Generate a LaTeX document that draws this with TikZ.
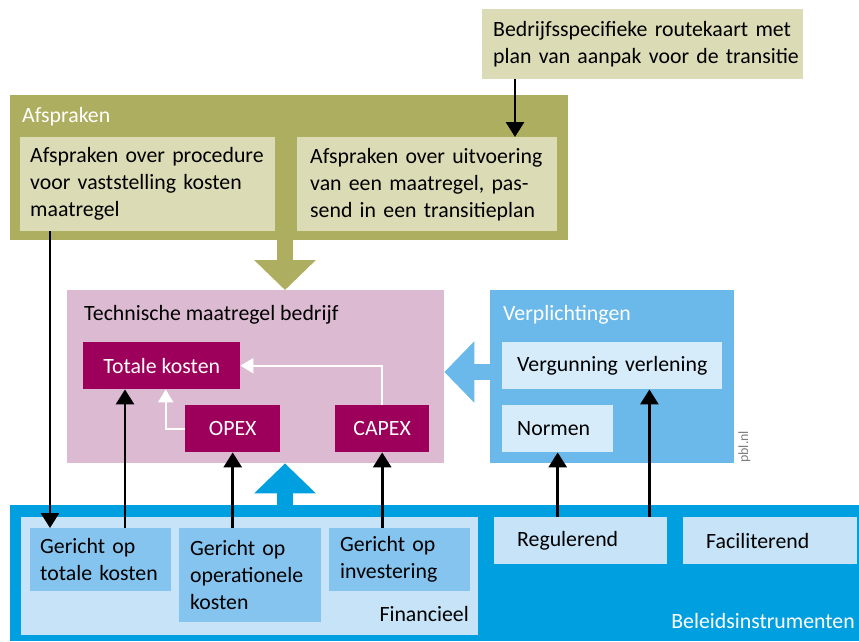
\documentclass[tikz,border=0pt]{standalone}
\usepackage{fontspec}
\setmainfont{Carlito}
\usetikzlibrary{arrows.meta}

\definecolor{olivedark}{HTML}{ADAE5F}
\definecolor{olivelight}{HTML}{DBDBB5}
\definecolor{pinkbg}{HTML}{DCBAD2}
\definecolor{magentabox}{HTML}{9C005A}
\definecolor{bluemid}{HTML}{6BB9EA}
\definecolor{bluelight}{HTML}{D7ECFA}
\definecolor{bluedark}{HTML}{009FDF}
\definecolor{bluepale}{HTML}{C6E3F8}
\definecolor{bluebox}{HTML}{85C4EF}
\newcommand\txtsize{\fontsize{21.8}{27}\selectfont}

\begin{document}
\begin{tikzpicture}[x=1pt, y=-1pt,
                    area/.style={anchor=north west, inner sep=0pt},
                    box/.style={anchor=north west, inner ysep=0pt, align=left, font=\txtsize,
                                execute at begin node={\hyphenpenalty=10000}},
                    cbox/.style={anchor=north west, inner sep=0pt, fill=magentabox, text=white,
                                 minimum height=47pt, font=\txtsize},
                    title/.style={anchor=base west, inner sep=0pt, font=\txtsize},
                    conn/.style={line width=2.8pt, -{Triangle[length=15pt,width=18pt]}},
                    wconn/.style={white, line width=2.4pt, -{Triangle[length=13pt,width=15pt]}},
                    fat/.style={line width=16pt, -{Triangle[length=30pt,width=60pt]}}]
  \useasboundingbox (0,0) rectangle (859,641);

  \node[area, fill=olivedark, minimum width=558pt, minimum height=145pt] (afspraken) at (10,95) {};
  \node[area, fill=pinkbg, minimum width=377pt, minimum height=173pt] (tech) at (67,290) {};
  \node[area, fill=bluemid, minimum width=244pt, minimum height=173pt] (verpl) at (490,290) {};
  \node[area, fill=bluedark, minimum width=849pt, minimum height=136pt] (beleid) at (10,505) {};
  \node[area, fill=bluepale, minimum width=457pt, minimum height=118pt] (financ) at (21,517) {};

  \node[title, white] (afsprakentitle) at (22,122) {Afspraken};
  \node[title] (techtitle) at (84,320) {Technische maatregel bedrijf};
  \node[title, white] (verpltitle) at (503,320) {Verplichtingen};
  \node[title, anchor=base east] (financtitle) at (469,621) {Financieel};
  \node[title, white, anchor=base east] (beleidtitle) at (855,628) {Beleidsinstrumenten};
  \node[rotate=90, anchor=base west, inner sep=0pt, text=gray,
        font=\fontsize{14}{16}\selectfont] (pbl) at (748,463) {pbl.nl};

  \node[box, fill=olivelight, inner xsep=11pt, text width=299pt, minimum height=70pt] (route) at (482,9)
    {Bedrijfsspecifieke routekaart met\\\mbox{plan van aanpak voor de transitie}};
  \node[box, fill=olivelight, inner xsep=10pt, text width=235pt, minimum height=94pt] (afsp1) at (20,137)
    {Afspraken over procedure\\voor vaststelling kosten\\maatregel};
  \node[box, fill=olivelight, inner xsep=13pt, text width=234pt, minimum height=94pt] (afsp2) at (297,137)
    {Afspraken over uitvoering\\van een maatregel, pas-\\send in een transitieplan};

  \node[cbox, minimum width=157pt] (totale) at (83,342) {Totale kosten};
  \node[cbox, minimum width=95pt] (opex) at (185,405) {OPEX};
  \node[cbox, minimum width=94pt] (capex) at (335,405) {CAPEX};

  \node[box, fill=bluelight, inner xsep=15pt, text width=190pt, minimum height=47pt] (verg) at (502,342)
    {\mbox{Vergunning verlening}};
  \node[box, fill=bluelight, inner xsep=15pt, text width=81pt, minimum height=47pt] (normen) at (502,405) {Normen};

  \node[box, fill=bluebox, inner xsep=10pt, text width=121pt, minimum height=63pt] (g1) at (30,528) {Gericht op\\totale kosten};
  \node[box, fill=bluebox, inner xsep=11pt, text width=120pt, minimum height=94pt] (g2) at (179,528) {Gericht op\\operationele\\kosten};
  \node[box, fill=bluebox, inner xsep=11pt, text width=119pt, minimum height=63pt] (g3) at (329,528) {Gericht op\\investering};
  \node[box, fill=bluepale, inner xsep=23pt, text width=127pt, minimum height=47pt] (reg) at (494,517) {Regulerend};
  \node[box, fill=bluepale, inner xsep=23pt, text width=128pt, minimum height=47pt] (fac) at (683,517) {Faciliterend};

  \coordinate (fatx) at (285,0);
  \coordinate (faty) at (0,372);
  \draw[fat, olivedark] (afspraken.south -| fatx) -- (tech.north -| fatx);
  \draw[fat, bluedark] (beleid.north -| fatx) -- (tech.south -| fatx);
  \draw[fat, bluemid] (verpl.west |- faty) -- (tech.east |- faty);

  \draw[wconn] (capex.north) |- (totale.east);
  \draw[wconn] (opex.west) -| ([xshift=4pt]totale.south);

  \coordinate (a1) at ([xshift=30pt]afsp1.south west);
  \coordinate (t1) at ([xshift=42pt]totale.south west);
  \coordinate (r1) at ([xshift=-18pt]reg.north east);
  \coordinate (b1) at ([xshift=33pt]route.south west);
  \draw[conn] (b1) -- (b1 |- afsp2.north);
  \draw[conn] (a1) -- (a1 |- g1.north);
  \draw[conn] (t1 |- g1.north) -- (t1);
  \draw[conn] (opex.south |- g2.north) -- (opex.south);
  \draw[conn] (capex.south |- g3.north) -- (capex.south);
  \draw[conn] (normen.south |- reg.north) -- (normen.south);
  \draw[conn] (r1) -- (r1 |- verg.south);
\end{tikzpicture}
\end{document}
